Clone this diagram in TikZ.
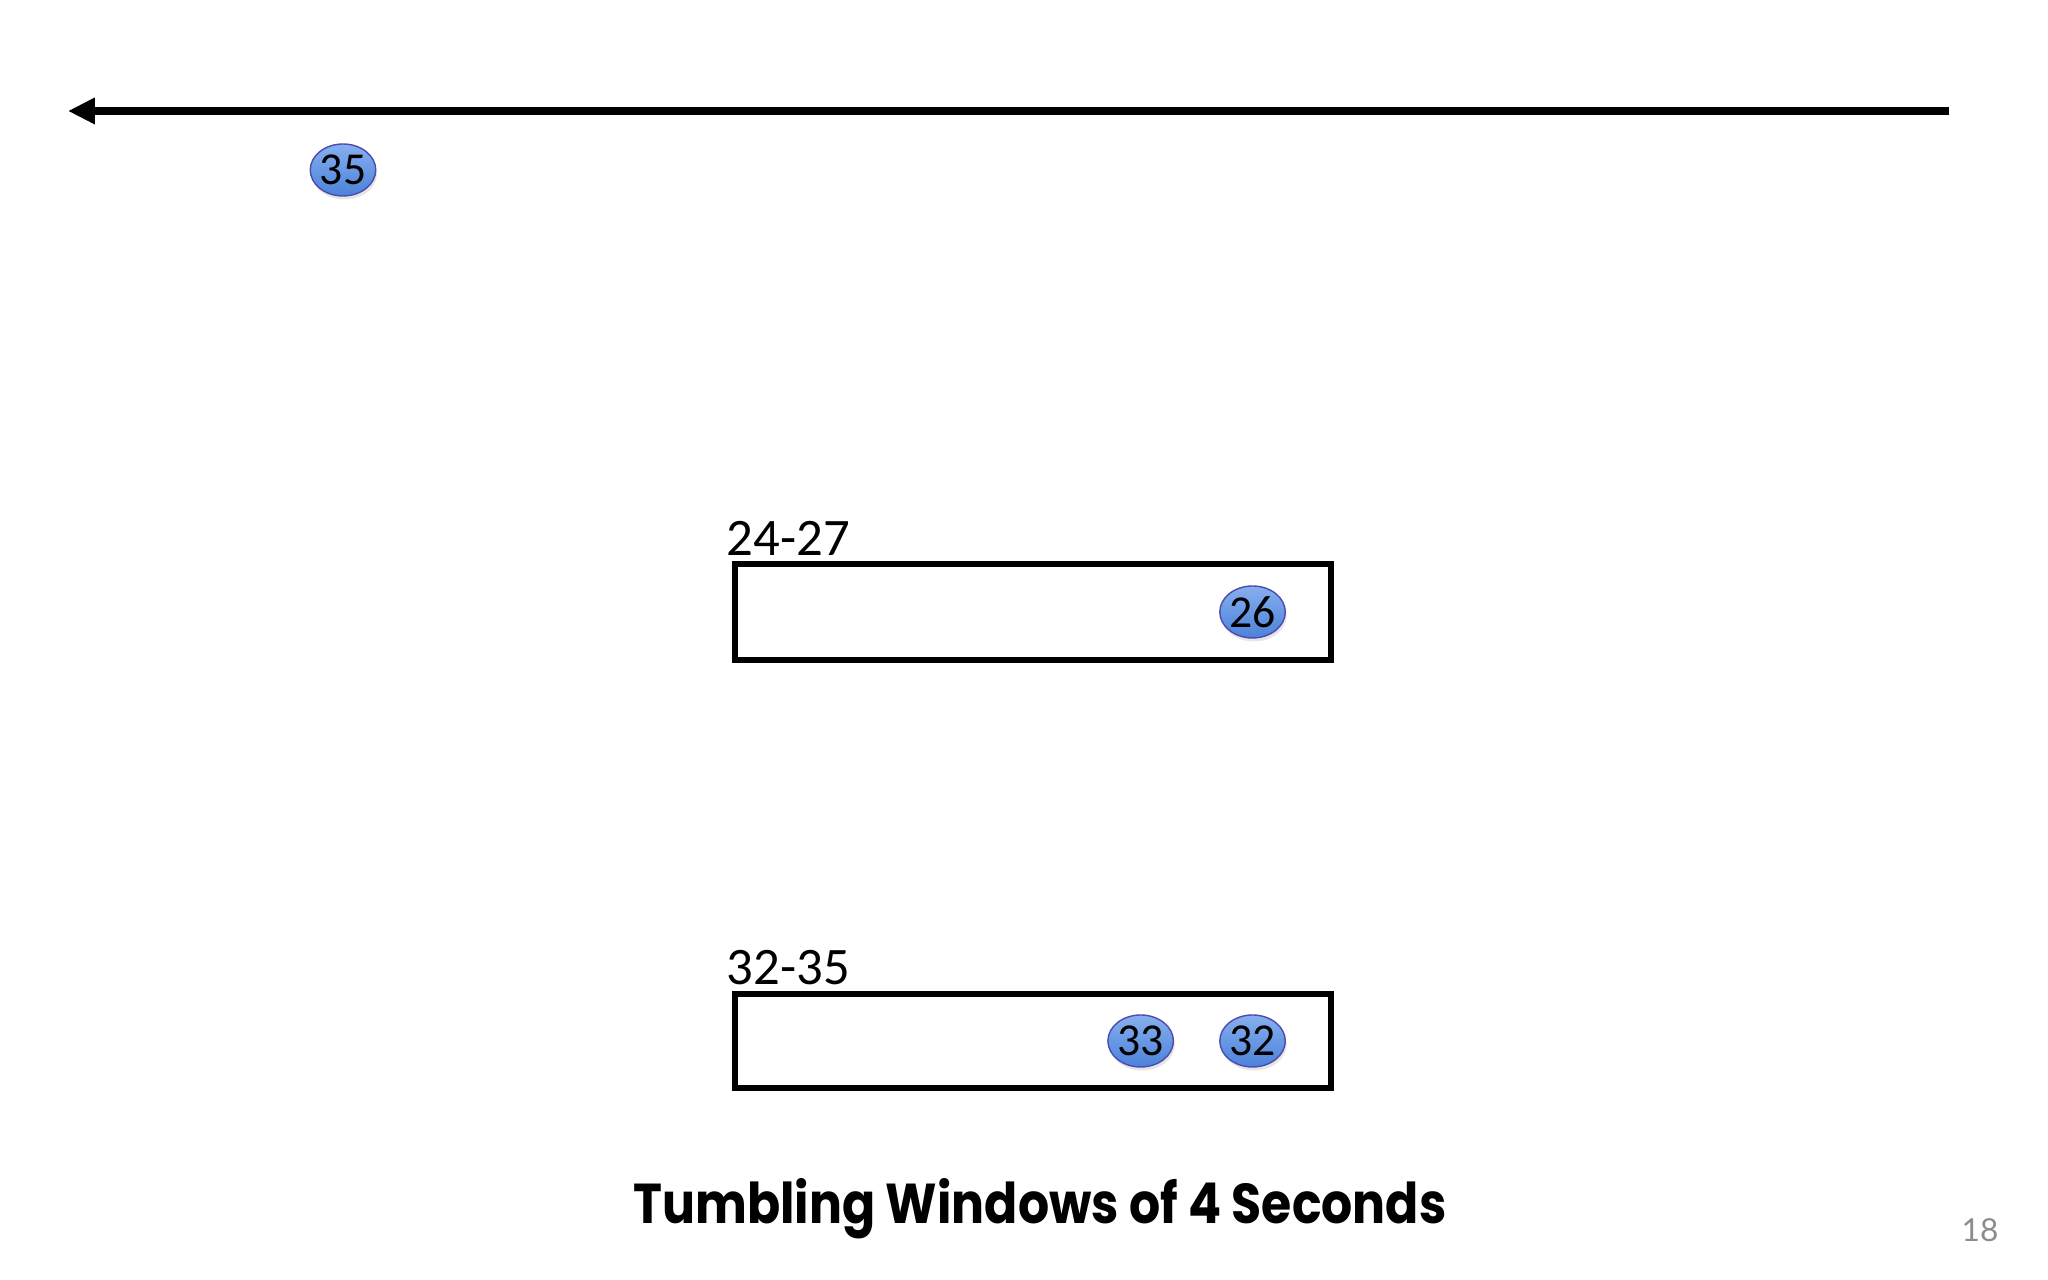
\documentclass[tikz,border=0pt]{standalone}
\usepackage{fontspec}
\setmainfont{Carlito}
\newfontfamily\titlefont{Poppins}[FakeStretch=0.87]
\newfontfamily\numfont{Lato}
\usetikzlibrary{arrows.meta,positioning,shapes.geometric,shadows}

\begin{document}
\begin{tikzpicture}[baseline]
	\tikzstyle{ball}=[ellipse, draw=blue!55!black!70, line width=0.4pt, top color={rgb,255:red,135;green,175;blue,238}, bottom color={rgb,255:red,75;green,130;blue,218}, minimum width=0.64cm, minimum height=0.52cm, inner sep=0pt, font=\fontsize{13}{13}\selectfont, drop shadow={shadow xshift=0.4pt, shadow yshift=-1pt, opacity=0.2}]
	\tikzstyle{window}=[rectangle, draw, line width=1.6pt, minimum width=5.96cm, outer sep=0pt]
	\tikzstyle{winlabel}=[inner sep=0pt, anchor=south west, font=\fontsize{15}{15}\selectfont]
	\useasboundingbox (0,0) rectangle (20.48,-12.8);
	\coordinate (tstart) at (19.49,-1.11);
	\coordinate (tend) at (0.68,-1.11);
	\draw[line width=2.3pt, -{Triangle[length=2.7mm, width=2.5mm]}] (tstart) -- (tend);
	\node[ball] (b35) at (3.43,-1.70) {35\hspace{1.6mm}};
	\node[window, minimum height=0.96cm] (win1) at (10.33,-6.12) {};
	\node[winlabel] (lab1) at ([xshift=-0.09cm, yshift=0.08cm]win1.north west) {24-27};
	\node[ball, left=0.45cm of win1.east] (b26) {26\hspace{0.6mm}};
	\node[window, minimum height=0.94cm] (win2) at (10.33,-10.41) {};
	\node[winlabel] (lab2) at ([xshift=-0.09cm, yshift=0.08cm]win2.north west) {32-35};
	\node[ball, left=0.45cm of win2.east] (b32) {32\hspace{0.6mm}};
	\node[ball, left=0.45cm of b32] (b33) {33\hspace{0.6mm}};
	\node[anchor=base, inner sep=0pt, font=\titlefont\bfseries\fontsize{16}{16}\selectfont] (title) at (10.40,-12.24) {Tumbling Windows of 4 Seconds};
	\node[anchor=base, inner sep=0pt, text=black!45, font=\numfont\fontsize{9}{9}\selectfont] (page) at (19.80,-12.42) {18};
\end{tikzpicture}
\end{document}
